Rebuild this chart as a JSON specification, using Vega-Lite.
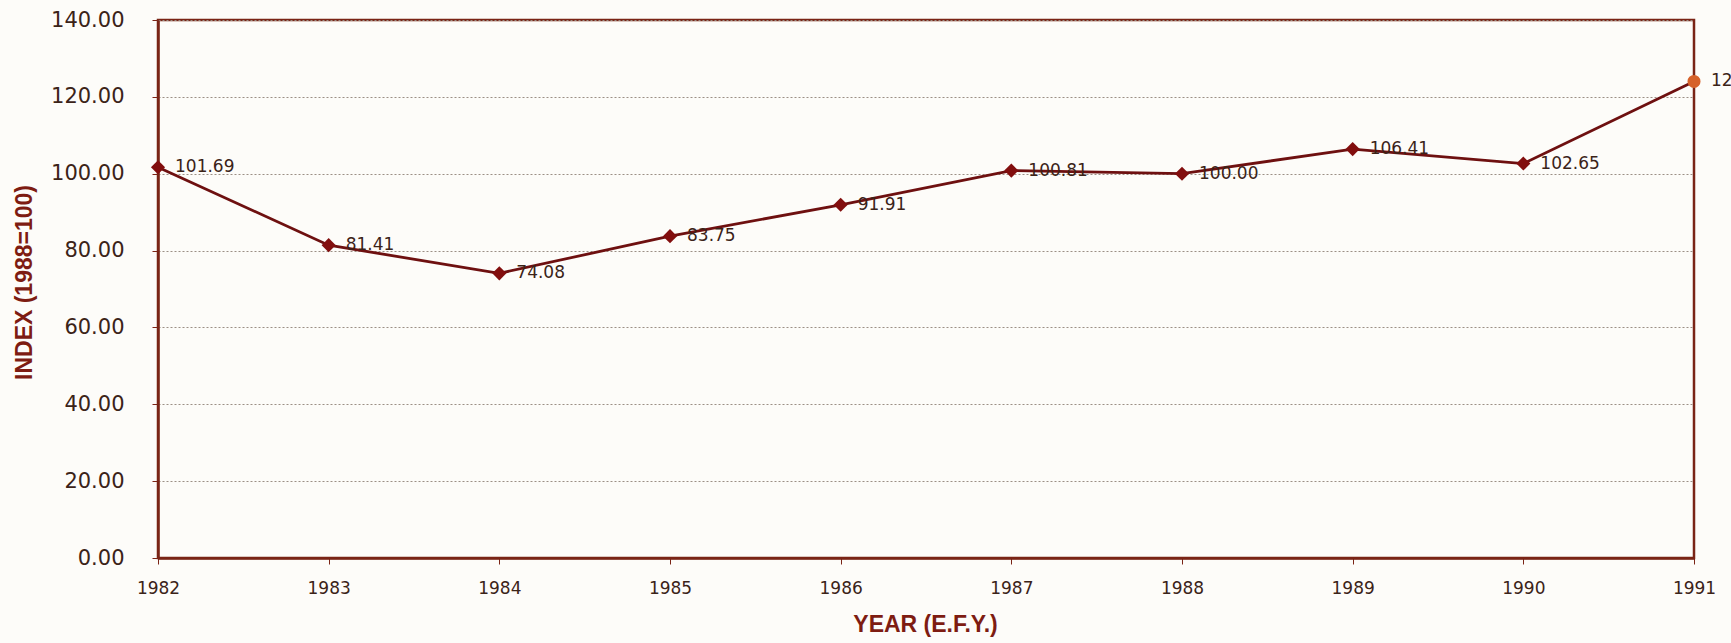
{
  "$schema": "https://vega.github.io/schema/vega-lite/v6.json",
  "autosize": {"type": "none"},
  "padding": {"left": 158, "top": 20, "right": 37, "bottom": 85},
  "width": 1536,
  "height": 538,
  "background": "#fdfcf9",
  "config": {
    "view": {"stroke": "#7a2416", "strokeWidth": 2.5},
    "axis": {"labelFont": "DejaVu Sans", "titleFont": "Liberation Sans"}
  },
  "data": {
    "values": [
      {"year": 1982, "index": 101.69},
      {"year": 1983, "index": 81.41},
      {"year": 1984, "index": 74.08},
      {"year": 1985, "index": 83.75},
      {"year": 1986, "index": 91.91},
      {"year": 1987, "index": 100.81},
      {"year": 1988, "index": 100.00},
      {"year": 1989, "index": 106.41},
      {"year": 1990, "index": 102.65},
      {"year": 1991, "index": 124.00}
    ]
  },
  "encoding": {
    "x": {
      "field": "year",
      "type": "quantitative",
      "scale": {"domain": [1982, 1991], "nice": false, "zero": false},
      "axis": {
        "title": "YEAR (E.F.Y.)",
        "values": [1982, 1983, 1984, 1985, 1986, 1987, 1988, 1989, 1990, 1991],
        "format": "d",
        "grid": false,
        "domainColor": "#7a2416",
        "domainWidth": 2.5,
        "tickColor": "#7a2416",
        "tickSize": 6,
        "labelFontSize": 17,
        "labelColor": "#3b2318",
        "labelPadding": 16,
        "labelFlush": false,
        "titleFontSize": 23,
        "titleFontWeight": "bold",
        "titleColor": "#7e1c12",
        "titleX": 767,
        "titleY": 66,
        "titleBaseline": "middle"
      }
    },
    "y": {
      "field": "index",
      "type": "quantitative",
      "scale": {"domain": [0, 140], "nice": false},
      "axis": {
        "title": "INDEX (1988=100)",
        "values": [0, 20, 40, 60, 80, 100, 120, 140],
        "format": ".2f",
        "grid": true,
        "gridColor": "#9c8f86",
        "gridDash": [2, 2],
        "gridWidth": 1.2,
        "domainColor": "#7a2416",
        "domainWidth": 2.5,
        "tickColor": "#7a2416",
        "tickSize": 6,
        "labelFontSize": 21,
        "labelColor": "#3b2318",
        "labelPadding": 28,
        "labelFlush": false,
        "titleFontSize": 23,
        "titleFontWeight": "bold",
        "titleColor": "#7e1c12",
        "titleAngle": -90,
        "titleX": -134,
        "titleY": 262,
        "titleAlign": "center",
        "titleBaseline": "middle"
      }
    }
  },
  "layer": [
    {
      "mark": {"type": "line", "color": "#6e1010", "strokeWidth": 2.8}
    },
    {
      "mark": {"type": "point", "filled": true, "opacity": 1},
      "encoding": {
        "shape": {"condition": {"test": "datum.year == 1991", "value": "circle"}, "value": "diamond"},
        "color": {"condition": {"test": "datum.year == 1991", "value": "#d6622a"}, "value": "#820e0e"},
        "size": {"condition": {"test": "datum.year == 1991", "value": 170}, "value": 200}
      }
    },
    {
      "mark": {"type": "text", "align": "left", "baseline": "middle", "dx": 17, "font": "DejaVu Sans", "fontSize": 17, "color": "#3b2318"},
      "encoding": {
        "text": {"field": "index", "type": "quantitative", "format": ".2f"}
      }
    }
  ]
}
